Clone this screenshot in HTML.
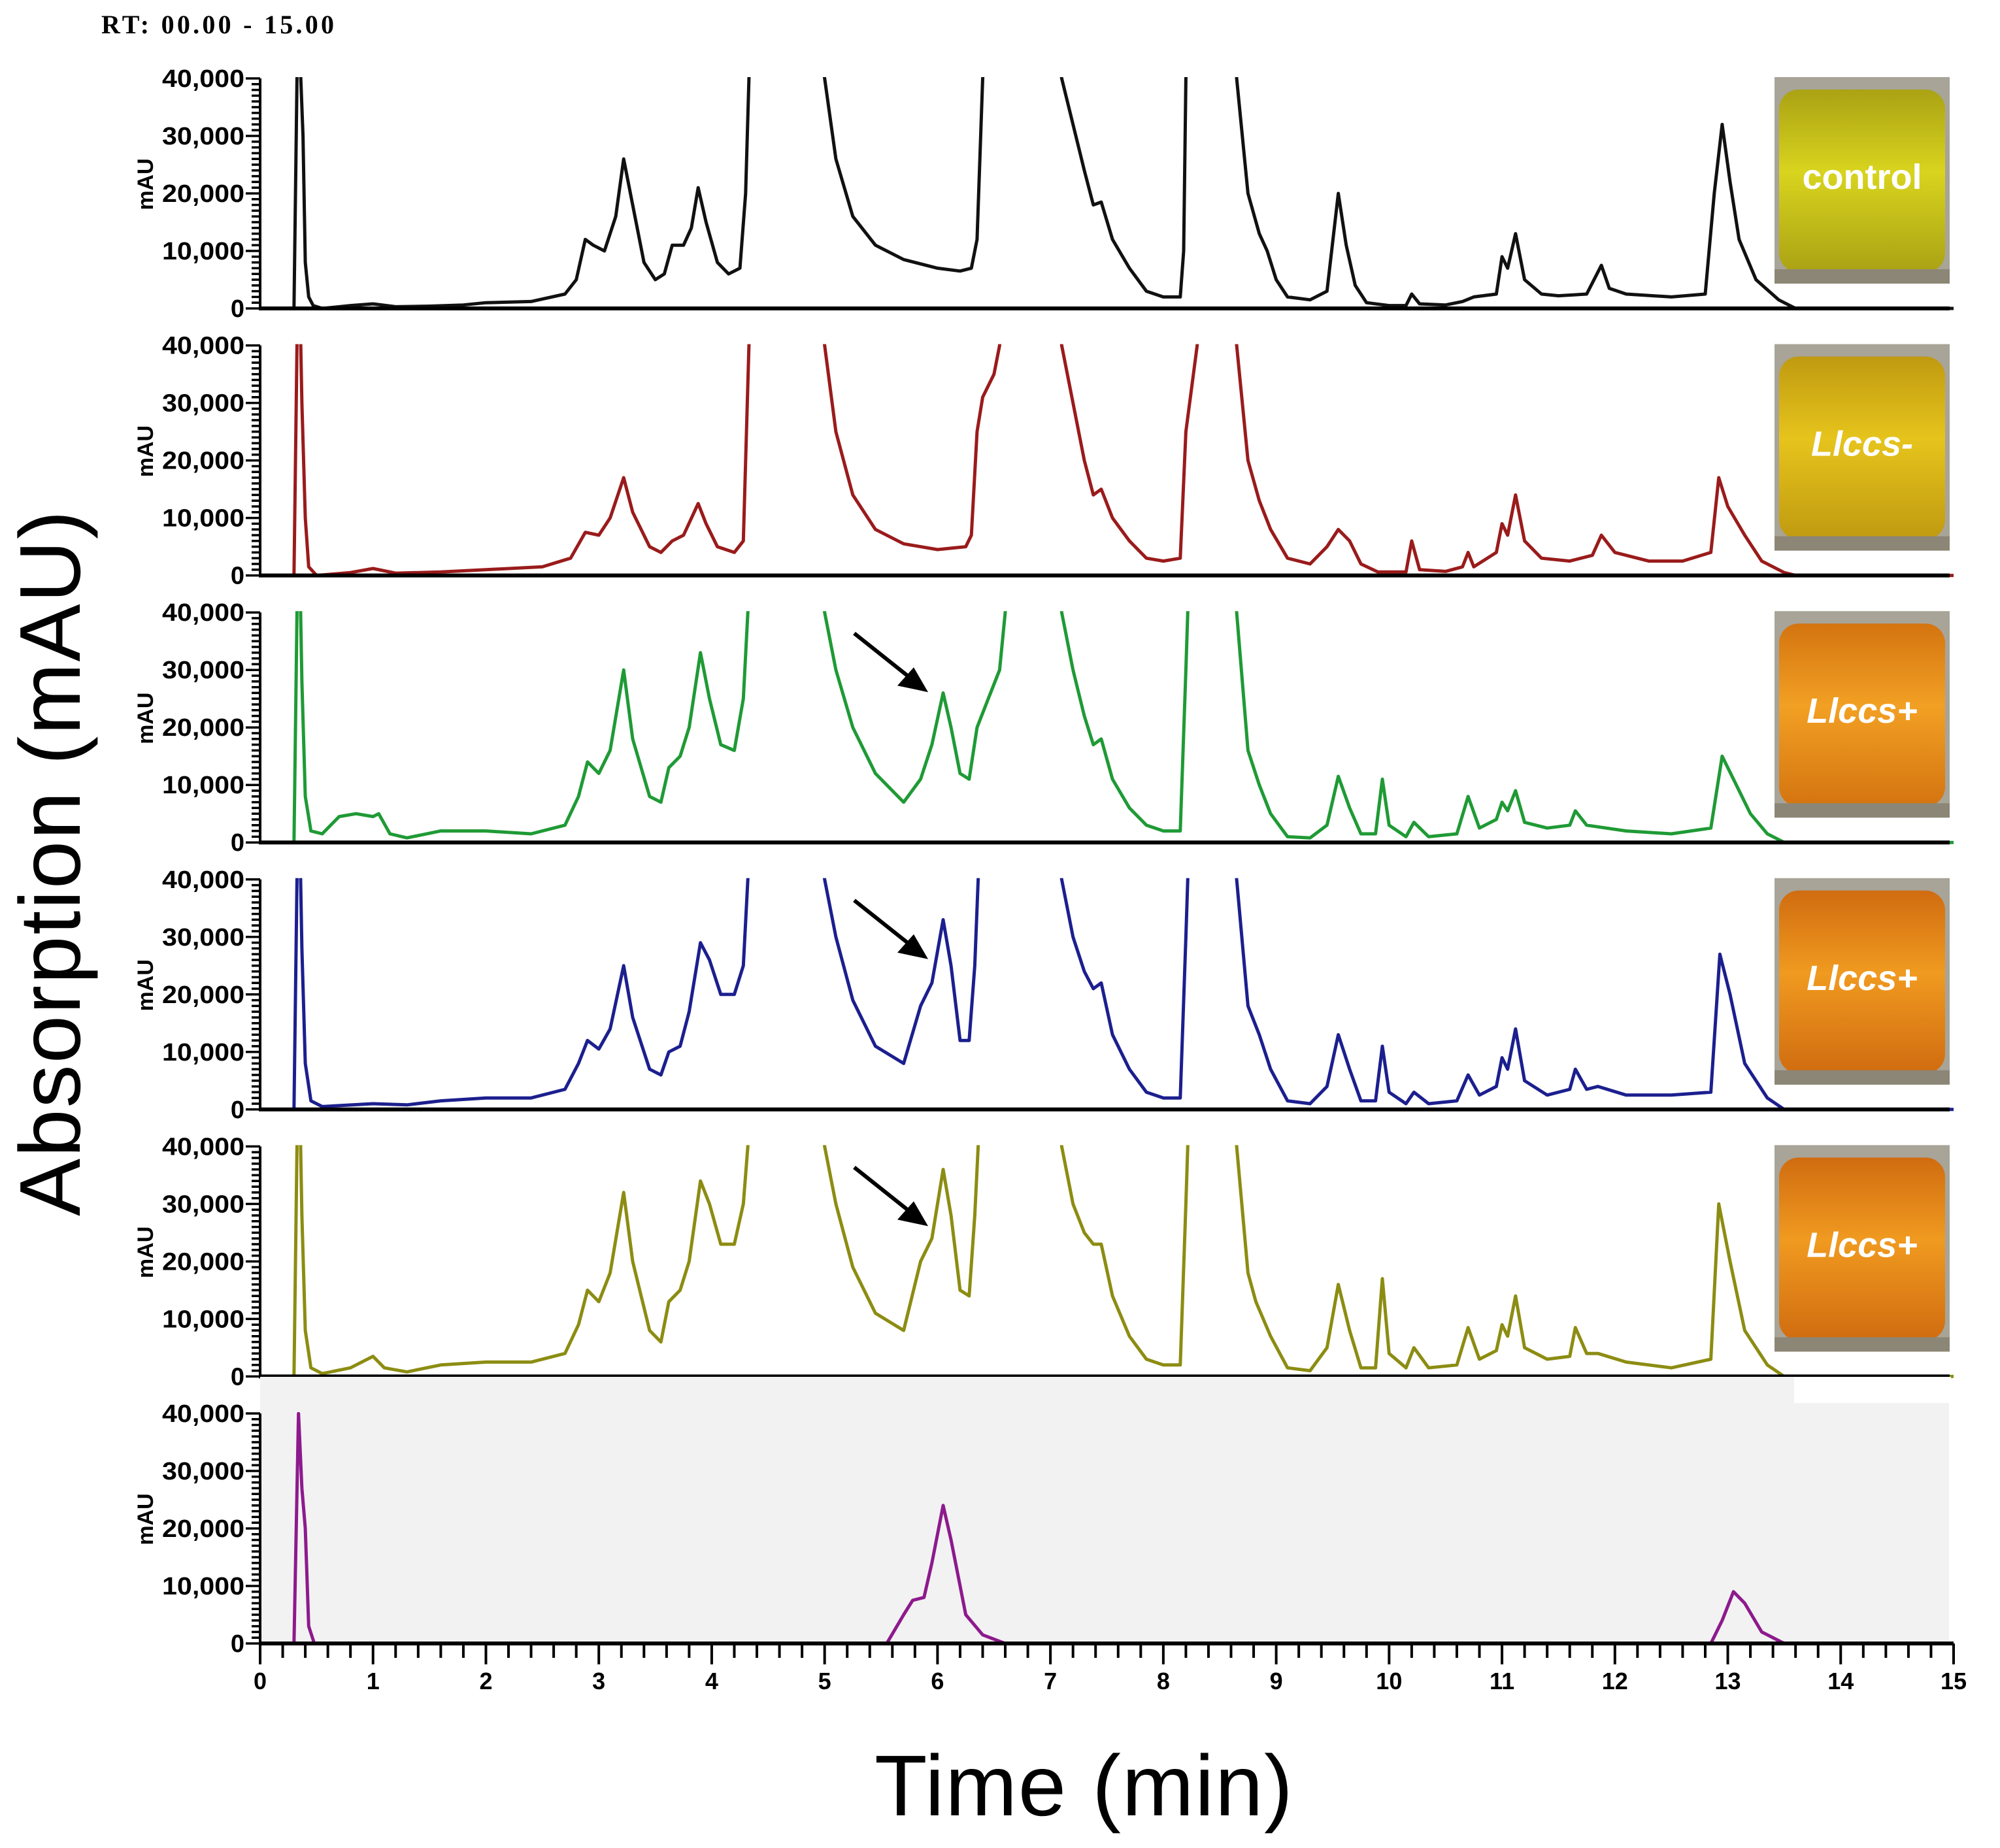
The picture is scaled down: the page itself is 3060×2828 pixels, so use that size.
<!DOCTYPE html>
<html><head><meta charset="utf-8"><style>
html,body{margin:0;padding:0;background:#fff;}
svg{display:block;}
</style></head><body>
<svg id="chart" xmlns="http://www.w3.org/2000/svg" width="3060" height="2828" viewBox="0 0 3060 2828">
<rect width="3060" height="2828" fill="#fff"/>
<text x="155" y="51" font-family="Liberation Serif, serif" font-weight="bold" font-size="40" textLength="356">RT: 00.00 - 15.00</text>
<text transform="translate(122,1321) rotate(-90)" text-anchor="middle" font-family="Liberation Sans, sans-serif" font-size="132" textLength="1080">Absorption (mAU)</text>
<text x="1658" y="2778" text-anchor="middle" font-family="Liberation Sans, sans-serif" font-size="132" textLength="640">Time (min)</text>
<g id="plots"></g>
</svg>
<script>
const xTicks = [0,1,2,3,4,5,6,7,8,9,10,11,12,13,14,15];
const yTicks = [0,10000,20000,30000,40000];
const sampleLabels = ["control","Llccs-","Llccs+","Llccs+","Llccs+",""];
const seriesColors = ["#111111","#9a1b1b","#1f9a35","#1c1f8e","#8c8c12","#8d1a8d"];
const controlData = [[0,0],[0.3,0],[0.34,60000],[0.36,40000],[0.38,30000],[0.4,8000],[0.43,2000],[0.47,500],[0.55,0],[0.8,500],[1.0,800],[1.2,300],[1.5,400],[1.8,600],[2.0,1000],[2.4,1200],[2.7,2500],[2.8,5000],[2.88,12000],[2.95,11000],[3.05,10000],[3.15,16000],[3.22,26000],[3.3,18000],[3.4,8000],[3.5,5000],[3.58,6000],[3.65,11000],[3.75,11000],[3.82,14000],[3.88,21000],[3.95,15000],[4.05,8000],[4.15,6000],[4.25,7000],[4.3,20000],[4.33,40000],[4.4,60000],[4.9,60000],[5.0,40000],[5.1,26000],[5.25,16000],[5.45,11000],[5.7,8500],[6.0,7000],[6.2,6500],[6.3,7000],[6.35,12000],[6.4,40000],[6.5,60000],[6.95,60000],[7.1,40000],[7.2,32000],[7.3,24000],[7.38,18000],[7.45,18500],[7.55,12000],[7.7,7000],[7.85,3000],[8.0,2000],[8.15,2000],[8.18,10000],[8.2,40000],[8.25,60000],[8.6,60000],[8.65,40000],[8.75,20000],[8.85,13000],[8.92,10000],[9.0,5000],[9.1,2000],[9.3,1500],[9.45,3000],[9.55,20000],[9.62,11000],[9.7,4000],[9.8,1000],[10.0,500],[10.15,500],[10.2,2500],[10.27,800],[10.5,600],[10.65,1200],[10.75,2000],[10.95,2500],[11.0,9000],[11.05,7000],[11.12,13000],[11.2,5000],[11.35,2500],[11.5,2200],[11.75,2500],[11.88,7500],[11.95,3500],[12.1,2500],[12.5,2000],[12.8,2500],[12.88,20000],[12.95,32000],[13.02,22000],[13.1,12000],[13.25,5000],[13.45,1500],[13.6,0],[15,0]];
const llccsMinusData = [[0,0],[0.3,0],[0.34,60000],[0.37,30000],[0.4,10000],[0.43,1500],[0.5,0],[0.8,500],[1.0,1200],[1.2,400],[1.6,600],[2.0,1000],[2.5,1500],[2.75,3000],[2.88,7500],[3.0,7000],[3.1,10000],[3.22,17000],[3.3,11000],[3.45,5000],[3.55,4000],[3.65,6000],[3.75,7000],[3.88,12500],[3.95,9000],[4.05,5000],[4.2,4000],[4.28,6000],[4.33,40000],[4.4,60000],[4.9,60000],[5.0,40000],[5.1,25000],[5.25,14000],[5.45,8000],[5.7,5500],[6.0,4500],[6.25,5000],[6.3,7000],[6.35,25000],[6.4,31000],[6.5,35000],[6.55,40000],[6.6,60000],[7.0,60000],[7.1,40000],[7.2,30000],[7.3,20000],[7.38,14000],[7.45,15000],[7.55,10000],[7.7,6000],[7.85,3000],[8.0,2500],[8.15,3000],[8.2,25000],[8.3,40000],[8.35,60000],[8.6,60000],[8.65,40000],[8.75,20000],[8.85,13000],[8.95,8000],[9.1,3000],[9.3,2000],[9.45,5000],[9.55,8000],[9.65,6000],[9.75,2000],[9.9,600],[10.15,600],[10.2,6000],[10.27,1000],[10.5,700],[10.65,1500],[10.7,4000],[10.75,1500],[10.95,4000],[11.0,9000],[11.05,7000],[11.12,14000],[11.2,6000],[11.35,3000],[11.6,2500],[11.8,3500],[11.88,7000],[12.0,4000],[12.3,2500],[12.6,2500],[12.85,4000],[12.92,17000],[13.0,12000],[13.15,7000],[13.3,2500],[13.5,500],[13.6,0],[15,0]];
const llccsPlusAData = [[0,0],[0.3,0],[0.34,60000],[0.37,28000],[0.4,8000],[0.45,2000],[0.55,1500],[0.7,4500],[0.85,5000],[1.0,4500],[1.05,5000],[1.15,1500],[1.3,800],[1.6,2000],[2.0,2000],[2.4,1500],[2.7,3000],[2.82,8000],[2.9,14000],[3.0,12000],[3.1,16000],[3.22,30000],[3.3,18000],[3.45,8000],[3.55,7000],[3.62,13000],[3.72,15000],[3.8,20000],[3.9,33000],[3.98,25000],[4.08,17000],[4.2,16000],[4.28,25000],[4.32,40000],[4.4,60000],[4.9,60000],[5.0,40000],[5.1,30000],[5.25,20000],[5.45,12000],[5.7,7000],[5.85,11000],[5.95,17000],[6.05,26000],[6.12,20000],[6.2,12000],[6.28,11000],[6.35,20000],[6.45,25000],[6.55,30000],[6.6,40000],[6.65,60000],[7.0,60000],[7.1,40000],[7.2,30000],[7.3,22000],[7.38,17000],[7.45,18000],[7.55,11000],[7.7,6000],[7.85,3000],[8.0,2000],[8.15,2000],[8.2,30000],[8.25,60000],[8.6,60000],[8.65,40000],[8.75,16000],[8.85,10000],[8.95,5000],[9.1,1000],[9.3,800],[9.45,3000],[9.55,11500],[9.65,6000],[9.75,1500],[9.88,1500],[9.94,11000],[10.0,3000],[10.15,1000],[10.22,3500],[10.35,1000],[10.6,1500],[10.7,8000],[10.8,2500],[10.95,4000],[11.0,7000],[11.05,5500],[11.12,9000],[11.2,3500],[11.4,2500],[11.6,3000],[11.65,5500],[11.75,3000],[12.1,2000],[12.5,1500],[12.85,2500],[12.95,15000],[13.05,11000],[13.2,5000],[13.35,1500],[13.5,0],[15,0]];
const llccsPlusBData = [[0,0],[0.3,0],[0.34,60000],[0.37,28000],[0.4,8000],[0.45,1500],[0.55,500],[1.0,1000],[1.3,800],[1.6,1500],[2.0,2000],[2.4,2000],[2.7,3500],[2.82,8000],[2.9,12000],[3.0,10500],[3.1,14000],[3.22,25000],[3.3,16000],[3.45,7000],[3.55,6000],[3.62,10000],[3.72,11000],[3.8,17000],[3.9,29000],[3.98,26000],[4.08,20000],[4.2,20000],[4.28,25000],[4.32,40000],[4.4,60000],[4.9,60000],[5.0,40000],[5.1,30000],[5.25,19000],[5.45,11000],[5.7,8000],[5.85,18000],[5.95,22000],[6.05,33000],[6.12,25000],[6.2,12000],[6.28,12000],[6.33,25000],[6.36,40000],[6.4,60000],[7.0,60000],[7.1,40000],[7.2,30000],[7.3,24000],[7.38,21000],[7.45,22000],[7.55,13000],[7.7,7000],[7.85,3000],[8.0,2000],[8.15,2000],[8.2,30000],[8.25,60000],[8.6,60000],[8.65,40000],[8.75,18000],[8.85,13000],[8.95,7000],[9.1,1500],[9.3,1000],[9.45,4000],[9.55,13000],[9.65,7000],[9.75,1500],[9.88,1500],[9.94,11000],[10.0,3000],[10.15,1000],[10.22,3000],[10.35,1000],[10.6,1500],[10.7,6000],[10.8,2500],[10.95,4000],[11.0,9000],[11.05,7000],[11.12,14000],[11.2,5000],[11.4,2500],[11.6,3500],[11.65,7000],[11.75,3500],[11.85,4000],[12.1,2500],[12.5,2500],[12.85,3000],[12.93,27000],[13.02,20000],[13.15,8000],[13.35,2000],[13.5,0],[15,0]];
const llccsPlusCData = [[0,0],[0.3,0],[0.34,60000],[0.37,28000],[0.4,8000],[0.45,1500],[0.55,500],[0.8,1500],[1.0,3500],[1.1,1500],[1.3,800],[1.6,2000],[2.0,2500],[2.4,2500],[2.7,4000],[2.82,9000],[2.9,15000],[3.0,13000],[3.1,18000],[3.22,32000],[3.3,20000],[3.45,8000],[3.55,6000],[3.62,13000],[3.72,15000],[3.8,20000],[3.9,34000],[3.98,30000],[4.08,23000],[4.2,23000],[4.28,30000],[4.32,40000],[4.4,60000],[4.9,60000],[5.0,40000],[5.1,30000],[5.25,19000],[5.45,11000],[5.7,8000],[5.85,20000],[5.95,24000],[6.05,36000],[6.12,28000],[6.2,15000],[6.28,14000],[6.33,28000],[6.36,40000],[6.4,60000],[7.0,60000],[7.1,40000],[7.2,30000],[7.3,25000],[7.38,23000],[7.45,23000],[7.55,14000],[7.7,7000],[7.85,3000],[8.0,2000],[8.15,2000],[8.2,30000],[8.25,60000],[8.6,60000],[8.65,40000],[8.75,18000],[8.82,13000],[8.95,7000],[9.1,1500],[9.3,1000],[9.45,5000],[9.55,16000],[9.65,8000],[9.75,1500],[9.88,1500],[9.94,17000],[10.0,4000],[10.15,1500],[10.22,5000],[10.35,1500],[10.6,2000],[10.7,8500],[10.8,3000],[10.95,4500],[11.0,9000],[11.05,7000],[11.12,14000],[11.2,5000],[11.4,3000],[11.6,3500],[11.65,8500],[11.75,4000],[11.85,4000],[12.1,2500],[12.5,1500],[12.85,3000],[12.92,30000],[13.02,20000],[13.15,8000],[13.35,2000],[13.5,0],[15,0]];
const standardData = [[0,0],[0.3,0],[0.34,40000],[0.37,27000],[0.4,20000],[0.43,3000],[0.48,0],[5.55,0],[5.7,5000],[5.78,7500],[5.88,8000],[5.95,14000],[6.05,24000],[6.12,18000],[6.25,5000],[6.4,1500],[6.6,0],[12.85,0],[12.95,4000],[13.05,9000],[13.15,7000],[13.3,2000],[13.5,0],[15,0]];
const allSeries = [controlData,llccsMinusData,llccsPlusAData,llccsPlusBData,llccsPlusCData,standardData];
const seriesNames = ["control-trace","llccs-minus-trace","llccs-plus-trace-1","llccs-plus-trace-2","llccs-plus-trace-3","standard-trace"];
const photoColors = [["#d8d41e","#aaa214"],["#e6c41c","#c09a10"],["#f2a024","#d47410"],["#f09a20","#d06c10"],["#f09a20","#d06c10"]];

const NS = "http://www.w3.org/2000/svg";
const X0 = 398, X15 = 2989, BASE0 = 472, STEP = 408.6, PH = 352;
function xScale(t){ return X0 + (X15 - X0) * t / 15; }
function yScale(v, base){ return base - PH * v / 40000; }
function mk(tag, attrs, parent){ const e = document.createElementNS(NS, tag); for (const k in attrs) e.setAttribute(k, attrs[k]); parent.appendChild(e); return e; }
const root = document.getElementById('plots');
const defs = mk('defs', {}, root);

for (let p = 0; p < 6; p++) {
  const base = BASE0 + STEP * p;
  const g = mk('g', {}, root);
  
  
  if (p === 5) {
    const bg = mk('rect', {x: X0, y: base - 408, width: 2982 - X0, height: 408, fill: '#f2f2f2'}, g);
    
    
    const wc = mk('rect', {x: 2745, y: base - 408, width: 240, height: 40, fill: '#fff'}, g);
    
    
  }
  const cp = mk('clipPath', {id: 'clip' + p}, defs);
  mk('rect', {x: X0, y: base - PH - 2, width: X15 - X0, height: PH + 10}, cp);
  const data = allSeries[p];
  let d = '';
  data.forEach((pt, i) => { d += (i ? 'L' : 'M') + xScale(pt[0]).toFixed(1) + ' ' + yScale(pt[1], base).toFixed(1); });
  const path = mk('path', {d: d, fill: 'none', stroke: seriesColors[p], 'stroke-width': 5, 'stroke-linejoin': 'round', 'clip-path': 'url(#clip' + p + ')'}, g);
  
  
  const xEnd = p === 5 ? X15 : 2983;
  const xl = mk('line', {x1: X0 - 2, y1: base, x2: xEnd, y2: base, stroke: '#000', 'stroke-width': 6}, g);
  
  
  const yl = mk('line', {x1: X0, y1: base + 2, x2: X0, y2: base - PH, stroke: '#000', 'stroke-width': 4}, g);
  
  
  for (let v = 0; v <= 40000; v += 1000) {
    const y = yScale(v, base);
    const major = v % 10000 === 0;
    mk('line', {x1: major ? X0 - 22 : X0 - 13, y1: y, x2: X0, y2: y, stroke: '#000', 'stroke-width': 3.5}, g);
  }
  yTicks.forEach(v => {
    const attrs = {x: X0 - 24, y: yScale(v, base) + 13, 'text-anchor': 'end', 'font-family': 'Liberation Sans, sans-serif', 'font-weight': 'bold', 'font-size': 38};
    if (v !== 0) { attrs.textLength = 126; attrs.lengthAdjust = 'spacingAndGlyphs'; }
    const t = mk('text', attrs, g);
    t.textContent = v === 0 ? '0' : (v / 1000) + ',000';
    
    
  });
  const mau = mk('text', {transform: 'translate(234,' + (base - 190) + ') rotate(-90)', 'text-anchor': 'middle', 'font-family': 'Liberation Sans, sans-serif', 'font-weight': 'bold', 'font-size': 34}, g);
  mau.textContent = 'mAU';
  
  
  if (p < 5) {
    const pg = mk('g', {}, g);
    
    
    const gr = mk('linearGradient', {id: 'pg' + p, x1: 0, y1: 0, x2: 0, y2: 1}, defs);
    mk('stop', {offset: 0, 'stop-color': photoColors[p][1]}, gr);
    mk('stop', {offset: 0.45, 'stop-color': photoColors[p][0]}, gr);
    mk('stop', {offset: 1, 'stop-color': photoColors[p][1]}, gr);
    mk('rect', {x: 2715, y: base - 354, width: 268, height: 316, fill: '#a8a498'}, pg);
    mk('rect', {x: 2722, y: base - 335, width: 254, height: 280, rx: 30, fill: 'url(#pg' + p + ')'}, pg);
    mk('rect', {x: 2715, y: base - 60, width: 268, height: 22, fill: '#8c8676'}, pg);
    const lab = mk('text', {x: 2849, y: base - 183, 'text-anchor': 'middle', 'font-family': 'Liberation Sans, sans-serif', 'font-weight': 'bold', 'font-style': p === 0 ? 'normal' : 'italic', 'font-size': 54, fill: '#fff'}, pg);
    lab.textContent = sampleLabels[p];
    
    
  }
  if (p >= 2 && p <= 4) {
    const ag = mk('g', {}, g);
    
    
    mk('line', {x1: 1307, y1: base - 320, x2: 1400, y2: base - 246, stroke: '#000', 'stroke-width': 6}, ag);
    mk('polygon', {points: (1420) + ',' + (base - 230) + ' ' + (1373) + ',' + (base - 240) + ' ' + (1398) + ',' + (base - 268), fill: '#000'}, ag);
  }
}
const bBase = BASE0 + STEP * 5;
const tg = mk('g', {}, root);


for (let i = 0; i <= 75; i++) {
  const t = i / 5, x = xScale(t), major = i % 5 === 0;
  mk('line', {x1: x, y1: bBase, x2: x, y2: bBase + (major ? 32 : 22), stroke: '#000', 'stroke-width': 4}, tg);
}
xTicks.forEach(t => {
  const lb = mk('text', {x: xScale(t), y: bBase + 70, 'text-anchor': 'middle', 'font-family': 'Liberation Sans, sans-serif', 'font-weight': 'bold', 'font-size': 36}, tg);
  lb.textContent = t;
  
  
});
</script>
</body></html>
